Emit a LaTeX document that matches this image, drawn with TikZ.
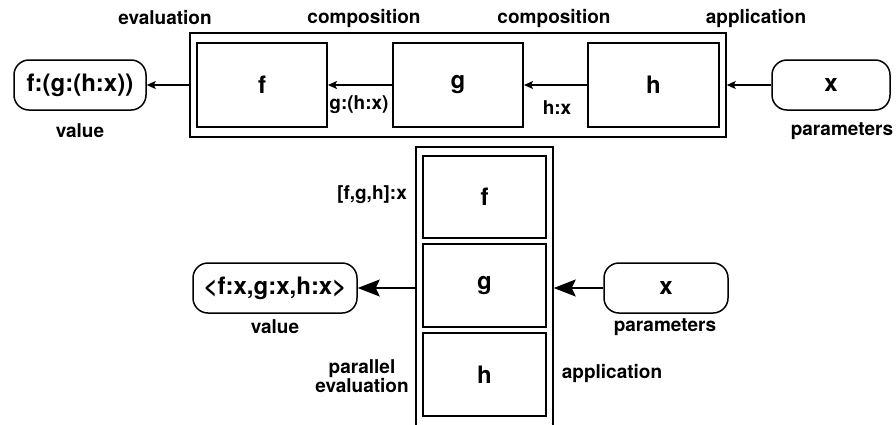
\documentclass[tikz,border=0pt]{standalone}
\usepackage{fontspec}
\setmainfont{TeX Gyre Heros}
\usetikzlibrary{arrows.meta}
\tikzset{
  block/.style={draw, line width=2pt, inner sep=0pt, font=\fontsize{24}{28}\selectfont\bfseries},
  frame/.style={draw, line width=1.5pt, inner sep=0pt},
  terminal/.style={draw, line width=1.5pt, rounded corners=15pt, inner sep=0pt,
    minimum height=50pt, font=\fontsize{24}{28}\selectfont\bfseries},
  lbl/.style={inner sep=0pt, align=center, font=\fontsize{19}{18}\selectfont\bfseries},
  thin arrow/.style={line width=1.5pt, -{Stealth[length=9pt,width=8pt,inset=2pt]}},
  thick arrow/.style={line width=1.5pt, -{Stealth[length=22pt,width=17pt,inset=4pt]}},
}
\begin{document}
\begin{tikzpicture}[x=1pt,y=-1pt]
  \clip (0,0) rectangle (896,424);
  %% composition: f o g o h
  \node[frame, minimum width=536pt, minimum height=104pt] (topframe) at (458,85) {};
  \node[block, minimum width=130pt, minimum height=84pt] (tf) at (262,85) {f};
  \node[block, minimum width=130pt, minimum height=84pt] (tg) at (458,85) {g};
  \node[block, minimum width=131pt, minimum height=84pt] (th) at (653.5,85) {h};
  \node[terminal, minimum width=132pt] (tval) at (80,85) {f:(g:(h:x))};
  \node[terminal, minimum width=118pt] (tpar) at (831,85) {x};
  \draw[thin arrow] (tpar) -- (topframe);
  \draw[thin arrow] (th) -- (tg);
  \draw[thin arrow] (tg) -- (tf);
  \draw[thin arrow] (topframe) -- (tval);
  \node[lbl] (teval) at (165,18) {evaluation};
  \node[lbl] (tcomp1) at (364,18) {composition};
  \node[lbl] (tcomp2) at (554,18) {composition};
  \node[lbl] (tappl) at (756,18) {application};
  \node[lbl] (tgh) at (359,105) {g:(h:x)};
  \node[lbl] (thx) at (557,108) {h:x};
  \node[lbl] (tvallbl) at (80,131) {value};
  \node[lbl] (tparlbl) at (842,131) {parameters};
  %% construction: [f,g,h]
  \node[frame, minimum width=137pt, minimum height=279pt] (bframe) at (484.5,286.5) {};
  \node[block, minimum width=123pt, minimum height=82pt] (bf) at (484.5,197) {f};
  \node[block, minimum width=123pt, minimum height=83pt] (bg) at (484.5,285.5) {g};
  \node[block, minimum width=123pt, minimum height=83pt] (bh) at (484.5,374.5) {h};
  \node[terminal, minimum width=164pt] (bval) at (275,288) {<f:x,g:x,h:x>};
  \node[terminal, minimum width=124pt] (bpar) at (666,288) {x};
  \draw[thick arrow] (bpar.west) -- (bframe.east |- bpar.west);
  \draw[thick arrow] (bframe.west |- bval.east) -- (bval.east);
  \node[lbl] (bfgh) at (372,195) {[f,g,h]:x};
  \node[lbl] (bvallbl) at (275,327) {value};
  \node[lbl] (bparlbl) at (665,327) {parameters};
  \node[lbl] (bpeval) at (362,376) {parallel\\evaluation};
  \node[lbl] (bappl) at (612,373) {application};
\end{tikzpicture}
\end{document}
